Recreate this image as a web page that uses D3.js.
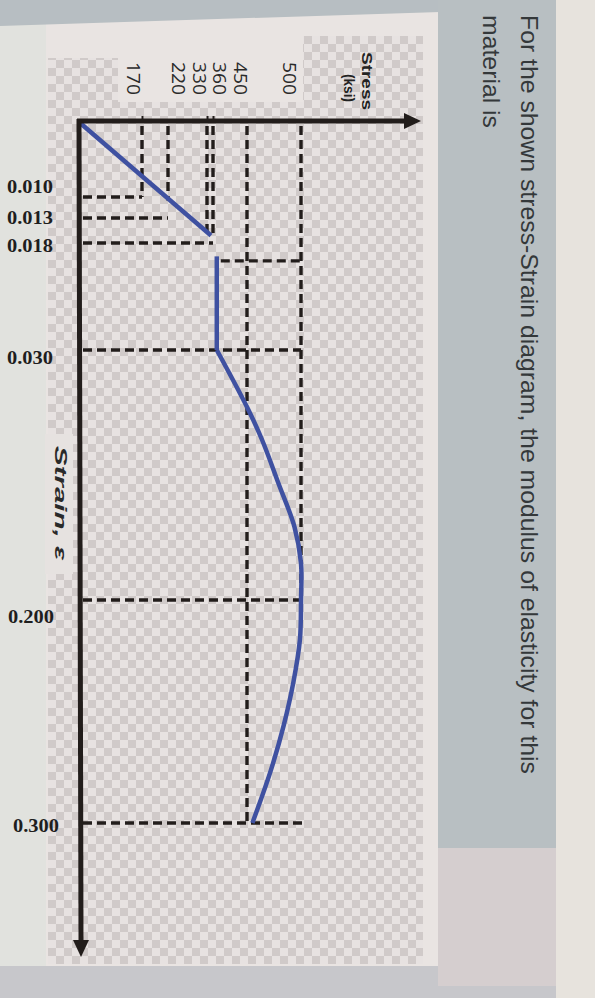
<!DOCTYPE html>
<html><head><meta charset="utf-8">
<script src="https://cdn.jsdelivr.net/npm/d3@7"></script>
<style>html,body{margin:0;padding:0;background:#e8e3e1;} svg{display:block}</style>
</head><body><svg id="c" width="595" height="998"></svg>
<script>
// ---------- data ----------
const strainTicks = [0.010, 0.013, 0.018, 0.030, 0.200, 0.300];
const strainTickLabels = ["0.010", "0.013", "0.018", "0.030", "0.200", "0.300"];
const stressTicks = [170, 220, 330, 360, 450, 500];
const stressTickLabels = ["170", "220", "330", "360", "450", "500"];
const elasticStrain = [0, 0.0165];
const elasticStress = [0, 350];
const plateauStrain = [0.0195, 0.030];
const plateauStress = [370, 370];
const hardeningStrain = [0.030, 0.0688, 0.0912, 0.1204, 0.1504, 0.1748, 0.200, 0.2177, 0.2367, 0.2562, 0.2765, 0.300];
const hardeningStress = [370, 450, 464, 479, 494, 500, 500, 499, 493, 484, 472, 455];
const hGuideStrain = [0.010, 0.013, 0.018, 0.020, 0.030, 0.200, 0.300];
const hGuideFrom = [0, 0, 0, 370, 0, 0, 0];
const hGuideTo = [170, 220, 360, 500, 500, 500, 505];
const vGuideStress = [170, 220, 330, 360, 450, 500];
const vGuideTo = [0.010, 0.0105, 0.017, 0.017, 0.300, 0.200];
const questionLines = ["For the shown stress-Strain diagram, the modulus of elasticity for this", "material is"];
const stressTitle = ["Stress", "(ksi)"];
const strainTitle = "Strain, \u03b5";

// ---------- layout ----------
const svg = d3.select("#c");
const x = d3.scaleLinear().domain([0, ...stressTicks]).range([79, 142, 168, 207, 213, 247, 301]);
const y = d3.scaleLinear().domain([0, ...strainTicks]).range([122, 197, 218, 243, 350, 600, 823]);

// backgrounds (photo of a screen)
svg.append("rect").attr("width", 595).attr("height", 998).attr("fill", "#e9e4e2");
svg.append("rect").attr("x", 0).attr("y", 0).attr("width", 46).attr("height", 998).attr("fill", "#e1e2de");
svg.append("path").attr("d", "M0,0H440V12L0,26Z").attr("fill", "#b7bec2");

const defs = svg.append("defs");
const pat = defs.append("pattern").attr("id", "chk").attr("patternUnits", "userSpaceOnUse")
  .attr("width", 16).attr("height", 16).attr("x", 48).attr("y", 36);
pat.append("rect").attr("width", 16).attr("height", 16).attr("fill", "#e7e2e1");
pat.append("rect").attr("width", 8).attr("height", 8).attr("fill", "#d0cac9");
pat.append("rect").attr("x", 8).attr("y", 8).attr("width", 8).attr("height", 8).attr("fill", "#d0cac9");
svg.append("rect").attr("x", 48).attr("y", 36).attr("width", 375).attr("height", 928).attr("fill", "url(#chk)");
// plain patches behind labels
svg.append("rect").attr("x", 46).attr("y", 30).attr("width", 257).attr("height", 28).attr("fill", "#e9e4e2");
svg.append("rect").attr("x", 118).attr("y", 36).attr("width", 185).attr("height", 66).attr("fill", "#e9e4e2");
svg.append("rect").attr("x", 45).attr("y", 434).attr("width", 28).attr("height", 140).attr("fill", "#e6e2e0");

// question panel
svg.append("rect").attr("x", 438).attr("y", 0).attr("width", 118).attr("height", 848).attr("fill", "#b8bfc2");
svg.append("rect").attr("x", 438).attr("y", 848).attr("width", 118).attr("height", 138).attr("fill", "#d5cecf");
svg.append("rect").attr("x", 556).attr("y", 0).attr("width", 39).attr("height", 998).attr("fill", "#e7e3dd");
svg.append("rect").attr("x", 0).attr("y", 966).attr("width", 438).attr("height", 32).attr("fill", "#c7c7cb");
svg.append("rect").attr("x", 438).attr("y", 986).attr("width", 118).attr("height", 12).attr("fill", "#c7c7cb");

const qX = [521, 483];
const qLen = [759, 113];
questionLines.forEach((t, i) => {
  svg.append("text").attr("transform", `translate(${qX[i]},15) rotate(90)`)
    .attr("font-family", "Liberation Sans, Arial, sans-serif").attr("font-size", 24)
    .attr("fill", "#34383a").attr("textLength", qLen[i]).attr("lengthAdjust", "spacingAndGlyphs")
    .text(t);
});

// ---------- guides ----------
const ink = "#221d1b";
const guides = svg.append("g").attr("stroke", ink).attr("stroke-width", 3.4)
  .attr("stroke-dasharray", "9,5").attr("fill", "none");
hGuideStrain.forEach((s, i) => {
  guides.append("line").attr("x1", x(hGuideFrom[i]) + 4).attr("x2", x(hGuideTo[i]))
    .attr("y1", y(s)).attr("y2", y(s));
});
vGuideStress.forEach((s, i) => {
  guides.append("line").attr("x1", x(s)).attr("x2", x(s))
    .attr("y1", y(0) + 4).attr("y2", y(vGuideTo[i]));
});

// ---------- curve ----------
const blue = "#3f51a1";
const line = d3.line().x(d => x(d[1])).y(d => y(d[0]));
const toPts = (a, b) => a.map((v, i) => [v, b[i]]);
svg.append("path").attr("d", line(toPts(elasticStrain, elasticStress)))
  .attr("stroke", blue).attr("stroke-width", 4.5).attr("fill", "none");
svg.append("path").attr("d", line(toPts(plateauStrain, plateauStress)))
  .attr("stroke", blue).attr("stroke-width", 4.5).attr("fill", "none");
svg.append("path").attr("d", line.curve(d3.curveCatmullRom)(toPts(hardeningStrain, hardeningStress)))
  .attr("stroke", blue).attr("stroke-width", 4.5).attr("fill", "none").attr("stroke-linejoin", "round");

// ---------- axes ----------
const axTop = d3.axisTop(x).tickValues([170, 330, 360]).tickSize(5).tickFormat("");
const gx = svg.append("g").attr("transform", `translate(0,${y(0) - 1})`).call(axTop);
gx.select(".domain").remove();
gx.selectAll(".tick line").attr("stroke", ink).attr("stroke-width", 2);

svg.append("line").attr("x1", x(0) - 2).attr("x2", 406).attr("y1", y(0) - 1).attr("y2", y(0) - 1)
  .attr("stroke", ink).attr("stroke-width", 5);
svg.append("path").attr("d", `M404,${y(0) - 9}L421,${y(0) - 1}L404,${y(0) + 7}Z`).attr("fill", ink);
svg.append("line").attr("x1", x(0)).attr("x2", x(0) + 2).attr("y1", y(0) - 3).attr("y2", 942)
  .attr("stroke", ink).attr("stroke-width", 5);
svg.append("path").attr("d", `M${x(0) - 6},940L${x(0) + 2},957L${x(0) + 10},940Z`).attr("fill", ink);

// strain tick labels (horizontal, bold serif)
const strainLabelDy = [-10, 0, 3, 8, 17, 3];
const strainLabelDx = [0, 0, 0, 0, 1, 6];
strainTicks.forEach((v, i) => {
  svg.append("text").attr("x", 7 + strainLabelDx[i]).attr("y", y(v) + strainLabelDy[i])
    .attr("dominant-baseline", "central")
    .attr("font-family", "Liberation Serif, Times New Roman, serif").attr("font-weight", "bold")
    .attr("font-size", 18).attr("fill", "#1e1e1e")
    .attr("textLength", 46).attr("lengthAdjust", "spacingAndGlyphs")
    .text(strainTickLabels[i]);
});

// stress tick labels (rotated with the photo)
const stressLabelDx = [-15, 4, -14, 0, -13, -18];
stressTicks.forEach((v, i) => {
  svg.append("text").attr("transform", `translate(${x(v) + stressLabelDx[i]},95) rotate(90)`)
    .attr("text-anchor", "end")
    .attr("font-family", "Open Sans, Liberation Sans, sans-serif")
    .attr("font-size", 19).attr("fill", "#2a2a2a")
    .attr("textLength", 33).attr("lengthAdjust", "spacingAndGlyphs")
    .text(stressTickLabels[i]);
});

// axis titles
const stX = [362, 344], stMid = [81, 88], stLen = [58, 28];
stressTitle.forEach((t, i) => {
  svg.append("text").attr("transform", `translate(${stX[i]},${stMid[i]}) rotate(90)`)
    .attr("text-anchor", "middle").attr("font-family", "Liberation Sans, Arial, sans-serif")
    .attr("font-weight", "bold").attr("font-size", 15).attr("fill", "#222")
    .attr("textLength", stLen[i]).attr("lengthAdjust", "spacingAndGlyphs").text(t);
});
svg.append("text").attr("transform", "translate(55,446) rotate(90)")
  .attr("font-family", "Liberation Sans, Arial, sans-serif").attr("font-style", "italic")
  .attr("font-weight", "bold").attr("font-size", 17).attr("fill", "#2a2a2a")
  .attr("textLength", 114).attr("lengthAdjust", "spacingAndGlyphs").text(strainTitle);
</script></body></html>
